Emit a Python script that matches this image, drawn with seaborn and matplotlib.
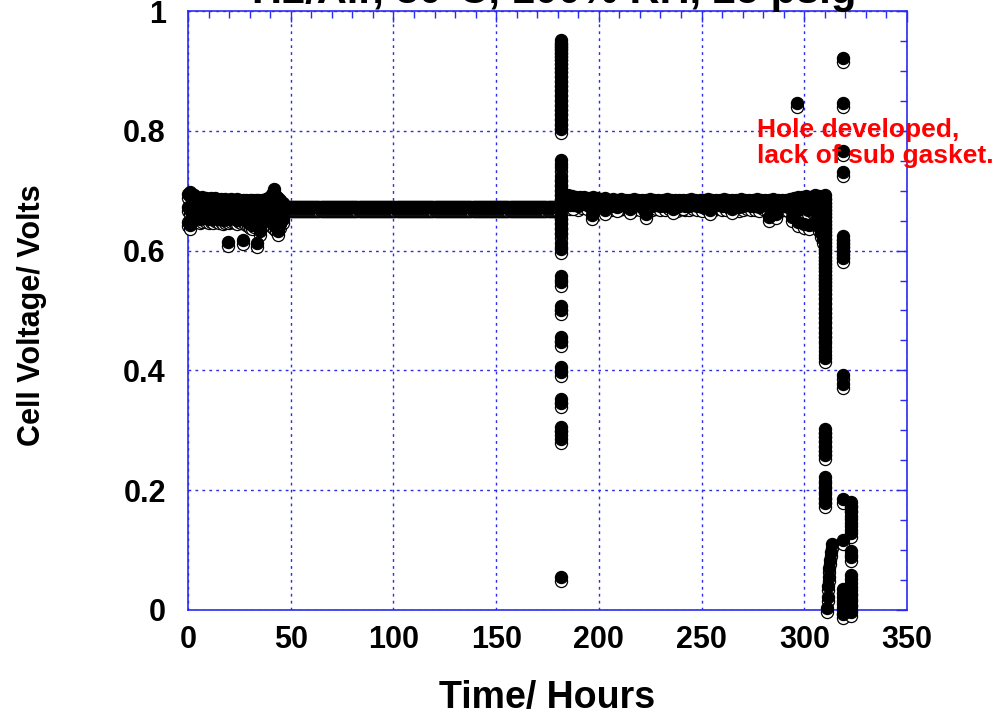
import numpy as np
import pandas as pd
import matplotlib
matplotlib.use("Agg")
import matplotlib.pyplot as plt
import matplotlib.transforms as mtransforms
import seaborn as sns

# ---- data (hours, cell volts) ----
title_text = "H2/Air, 80°C, 100% RH, 25 psig"
note_text = "Hole developed,\nlack of sub gasket."

x_ticks = [0, 50, 100, 150, 200, 250, 300, 350]
y_ticks = [0, 0.2, 0.4, 0.6, 0.8, 1.0]
y_tick_labels = ["0", "0.2", "0.4", "0.6", "0.8", "1"]

# first 46 h, noisy start (hourly logging, three readings per hour)
early_hours = np.arange(0, 47)
early_hi = [0.694, 0.698, 0.695, 0.692, 0.690, 0.688, 0.687, 0.689, 0.686, 0.688,
            0.686, 0.687, 0.685, 0.687, 0.686, 0.685, 0.686, 0.684, 0.686, 0.685,
            0.684, 0.686, 0.685, 0.684, 0.686, 0.685, 0.683, 0.685, 0.684, 0.683,
            0.685, 0.684, 0.683, 0.685, 0.684, 0.683, 0.684, 0.685, 0.686, 0.688,
            0.690, 0.694, 0.702, 0.691, 0.687, 0.684, 0.680]
early_mid = [0.672, 0.668, 0.665, 0.670, 0.667, 0.669, 0.666, 0.670, 0.668, 0.665,
             0.669, 0.667, 0.670, 0.666, 0.668, 0.669, 0.665, 0.668, 0.670, 0.666,
             0.668, 0.667, 0.669, 0.665, 0.668, 0.670, 0.666, 0.668, 0.669, 0.667,
             0.665, 0.668, 0.670, 0.666, 0.668, 0.667, 0.669, 0.666, 0.668, 0.670,
             0.667, 0.669, 0.671, 0.668, 0.666, 0.669, 0.671]
early_lo = [0.648, 0.643, 0.652, 0.655, 0.654, 0.656, 0.653, 0.655, 0.657, 0.654,
            0.652, 0.655, 0.653, 0.656, 0.654, 0.652, 0.654, 0.651, 0.653, 0.655,
            0.652, 0.654, 0.656, 0.653, 0.651, 0.655, 0.652, 0.654, 0.650, 0.648,
            0.645, 0.642, 0.646, 0.650, 0.648, 0.644, 0.647, 0.652, 0.654, 0.651,
            0.649, 0.646, 0.643, 0.640, 0.641, 0.645, 0.652]
early_dip_hours = [19.5, 26.8, 33.6, 35.2, 43.8]
early_dip_volts = [0.615, 0.617, 0.613, 0.633, 0.633]

# steady hold 47-180 h
plateau_hours = np.arange(47, 180.5, 0.5)
plateau_level = 0.673

# excursion near 181.6 h
spike_hour = 181.6
spike_volts = [0.952, 0.947, 0.942, 0.936, 0.930, 0.925, 0.918, 0.912, 0.905, 0.898,
               0.890, 0.882, 0.874, 0.866, 0.858, 0.850, 0.842, 0.834, 0.826, 0.818,
               0.810, 0.803, 0.752, 0.740, 0.725, 0.716, 0.708, 0.700, 0.692, 0.684,
               0.676, 0.668, 0.660, 0.652, 0.644, 0.636, 0.628, 0.612, 0.603, 0.558,
               0.548, 0.508, 0.500, 0.455, 0.448, 0.405, 0.398, 0.352, 0.345, 0.305,
               0.298, 0.285, 0.055]

# 183-308 h
later_hi_hours = np.arange(183, 309, 2)
later_hi = [0.692, 0.693, 0.691, 0.690, 0.689, 0.690, 0.688, 0.689, 0.687,
            0.686, 0.687, 0.685, 0.686, 0.684, 0.686, 0.685, 0.684, 0.686, 0.685,
            0.684, 0.685, 0.686, 0.684, 0.685, 0.684, 0.686, 0.685, 0.684, 0.685,
            0.685, 0.684, 0.686, 0.685, 0.684, 0.685, 0.686, 0.684, 0.685, 0.684,
            0.686, 0.685, 0.684, 0.685, 0.686, 0.684, 0.685, 0.684, 0.686, 0.685,
            0.684, 0.685, 0.686, 0.684, 0.685, 0.684, 0.686,
            0.688, 0.689, 0.690, 0.691, 0.690, 0.692, 0.691]
later_lo_hours = np.arange(184, 310, 2)
later_lo = [0.678, 0.676, 0.677, 0.675, 0.677, 0.676, 0.678, 0.675, 0.676,
            0.676, 0.674, 0.675, 0.677, 0.674, 0.676, 0.675, 0.673, 0.676, 0.674,
            0.675, 0.677, 0.674, 0.676, 0.675, 0.674, 0.676, 0.675, 0.673, 0.676,
            0.675, 0.674, 0.676, 0.675, 0.673, 0.676, 0.674, 0.675, 0.677, 0.674,
            0.675, 0.676, 0.674, 0.673, 0.675, 0.676, 0.674, 0.675, 0.673, 0.676,
            0.674, 0.672, 0.675, 0.673, 0.674, 0.672, 0.673,
            0.672, 0.670, 0.671, 0.668, 0.670, 0.672, 0.674]
later_dip_hours = [187.6, 196.8, 203.0, 209.0, 215.0, 223.0, 236.0, 241.0, 254.0,
                   265.0, 283.0, 286.0, 294.0, 297.0, 300.0, 302.5, 305.0]
later_dip_volts = [0.676, 0.660, 0.668, 0.672, 0.669, 0.661, 0.669, 0.676, 0.667,
                   0.670, 0.656, 0.661, 0.656, 0.648, 0.645, 0.642, 0.650]

# failure: collapse near 310 h
drop_hour = 310.2
drop_volts = [0.692, 0.686, 0.680, 0.674, 0.668, 0.662, 0.656, 0.650, 0.644, 0.638,
              0.632, 0.626, 0.620, 0.614, 0.608, 0.602, 0.596, 0.590, 0.584, 0.578,
              0.572, 0.566, 0.560, 0.554, 0.548, 0.542, 0.535, 0.527, 0.519, 0.511,
              0.503, 0.495, 0.487, 0.479, 0.471, 0.463, 0.455, 0.445, 0.432, 0.420,
              0.302, 0.295, 0.288, 0.280, 0.272, 0.265, 0.258,
              0.222, 0.212, 0.203, 0.194, 0.185, 0.178]
drop_top_hours = [306.5, 307.5, 308.5, 307.0, 308.0, 309.0]
drop_top_volts = [0.665, 0.655, 0.645, 0.640, 0.630, 0.620]
diag_hours = [311.0, 311.3, 311.6, 311.9, 312.2, 312.5, 312.9, 313.4]
diag_volts = [0.003, 0.022, 0.040, 0.055, 0.070, 0.084, 0.097, 0.110]
right_hour = 318.6
right_volts = [0.922, 0.847, 0.767, 0.732, 0.624, 0.618, 0.612, 0.606, 0.600, 0.594,
               0.588, 0.392, 0.378, 0.185, 0.117, 0.035, 0.022, 0.010, 0.000, -0.006]
far_hour = 322.8
far_volts = [0.180, 0.172, 0.163, 0.152, 0.140, 0.128, 0.098, 0.088, 0.058, 0.045,
             0.033, 0.025, 0.015, 0.006, -0.004]
stray_hours = [296.3]
stray_volts = [0.847]

# ---- assemble ----
hours = np.concatenate([
    early_hours, early_hours, early_hours, early_dip_hours,
    plateau_hours,
    np.full(len(spike_volts), spike_hour),
    later_hi_hours, later_lo_hours, later_dip_hours,
    np.full(len(drop_volts), drop_hour), drop_top_hours, diag_hours,
    np.full(len(right_volts), right_hour), np.full(len(far_volts), far_hour),
    stray_hours])
volts = np.concatenate([
    early_hi, early_mid, early_lo, early_dip_volts,
    np.full(len(plateau_hours), plateau_level),
    spike_volts,
    later_hi, later_lo, later_dip_volts,
    drop_volts, drop_top_volts, diag_volts, right_volts, far_volts, stray_volts])
df = pd.DataFrame({"Hours": hours, "Volts": volts})

sns.set_theme(style="white")
plt.rcParams['font.family'] = ['Liberation Sans', 'DejaVu Sans']
plt.rcParams['font.weight'] = 'bold'
plt.rcParams['text.color'] = 'black'
plt.rcParams['axes.labelcolor'] = 'black'

blue = "#2b2bf0"
fig = plt.figure(figsize=(10.07, 7.15), dpi=100)
ax = fig.add_axes([0.1867, 0.1469, 0.7140, 0.8377])

# open circles (second trace), drawn a little lower than the filled ones
sns.scatterplot(data=df, x="Hours", y="Volts", ax=ax, s=76, marker="o",
                facecolor="white", edgecolor="black", linewidth=0.9, clip_on=False, zorder=3)
ax.collections[-1].set_offset_transform(
    ax.transData + mtransforms.ScaledTranslation(0, -4 / 100, fig.dpi_scale_trans))
sns.scatterplot(data=df, x="Hours", y="Volts", ax=ax, s=76, marker="o",
                color="black", edgecolor="black", linewidth=0.9, clip_on=False, zorder=4)

ax.set_xlim(0, 350)
ax.set_ylim(0, 1)
ax.set_xticks(x_ticks)
ax.set_xticklabels([str(t) for t in x_ticks])
ax.set_yticks(y_ticks)
ax.set_yticklabels(y_tick_labels)
ax.set_xticks(np.arange(0, 351, 10), minor=True)
ax.set_yticks(np.arange(0, 1.001, 0.05), minor=True)

ax.grid(which='major', color=blue, linestyle=(0, (2, 3)), linewidth=1.0)
ax.set_axisbelow(True)
for sp in ax.spines.values():
    sp.set_color(blue)
    sp.set_linewidth(1.2)
    sp.set_visible(True)

ax.tick_params(which='both', direction='in', top=True, right=True, color=blue,
               labelcolor='black')
ax.tick_params(which='major', length=8, width=1)
ax.tick_params(which='minor', length=5, width=1)
ax.tick_params(axis='x', which='major', labelsize=22, pad=11)
ax.tick_params(axis='y', which='major', labelsize=22, pad=16)
for lab in ax.get_xticklabels() + ax.get_yticklabels():
    lab.set_fontweight('bold')

ax.set_xlabel("Time/ Hours", fontsize=27, fontweight='bold', color='black')
ax.set_ylabel("Cell Voltage/ Volts", fontsize=22, fontweight='bold', color='black')
ax.xaxis.set_label_coords(0.499, -0.117)
ax.yaxis.set_label_coords(-0.196, 0.4925)

ax.text(277, 0.822, note_text, color='red', fontsize=19, fontweight='bold',
        ha='left', va='top', linespacing=1.15, zorder=6)

fig.text(0.55, 1 - 3 / 715, title_text, ha='center', va='baseline',
         fontsize=30, fontweight='bold', color='black')

fig.savefig("out.png", dpi=100)
